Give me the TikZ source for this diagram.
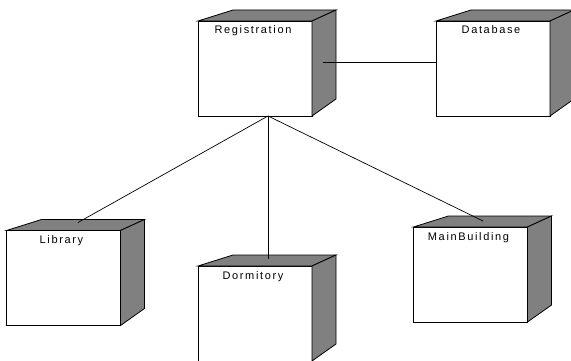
\documentclass[tikz,border=0pt]{standalone}
\usepackage{fontspec}
\setmainfont{Liberation Sans}
\newfontfamily\nodefont[LetterSpace=15]{Liberation Sans}
\usetikzlibrary{calc}
\definecolor{shadegray}{RGB}{128,128,128}

% A deployment node: white front face with a shaded top and right side.
\newcommand\devicebox[4]{%
  \node[face] (#1) at (#2,#3) {};
  \filldraw[shade] (#1.north west) -- ++(35,-11)
    -- ($(#1.north east)+(24,-11)$) -- (#1.north east) -- cycle;
  \filldraw[shade] (#1.north east) -- ++(24,-11)
    -- ($(#1.south east)+(24,-17)$) -- (#1.south east) -- cycle;
  \node[nodelabel] (#1-label) at ($(#1.north)+(-2,13)$) {#4};
}

\begin{document}
\begin{tikzpicture}[x=1pt,y=-1pt,
  face/.style={draw=black, fill=white, line width=0.8pt,
    minimum width=114pt, minimum height=95pt, inner sep=0pt, outer sep=0pt},
  shade/.style={draw=black, fill=shadegray, line width=0.8pt, line join=miter},
  nodelabel/.style={font=\nodefont\fontsize{11}{13}\selectfont,
    anchor=base, inner sep=0pt},
  link/.style={draw=black, line width=0.7pt}]
\useasboundingbox (0,0) rectangle (571,361);

\devicebox{reg}{255}{68.5}{Registration}
\devicebox{db}{493}{68.5}{Database}
\devicebox{lib}{63.5}{278}{Library}
\devicebox{dorm}{255}{313.5}{Dormitory}
\devicebox{main}{470.5}{274.5}{MainBuilding}

% connection points
\coordinate (reg-hub) at ($(reg.south)+(13,0)$);
\coordinate (reg-side) at ($(reg.east)+(11,-6.5)$);
\coordinate (db-in) at ($(db.west)+(0,-6.5)$);
\coordinate (lib-top) at ($(lib.north)+(14.5,-8)$);
\coordinate (dorm-top) at ($(dorm.north)+(13,-7)$);
\coordinate (main-top) at ($(main.north)+(12.5,-6)$);

\draw[link] (reg-side) -- (db-in);
\draw[link] (reg-hub) -- (lib-top);
\draw[link] (reg-hub) -- (dorm-top);
\draw[link] (reg-hub) -- (main-top);
\end{tikzpicture}
\end{document}
